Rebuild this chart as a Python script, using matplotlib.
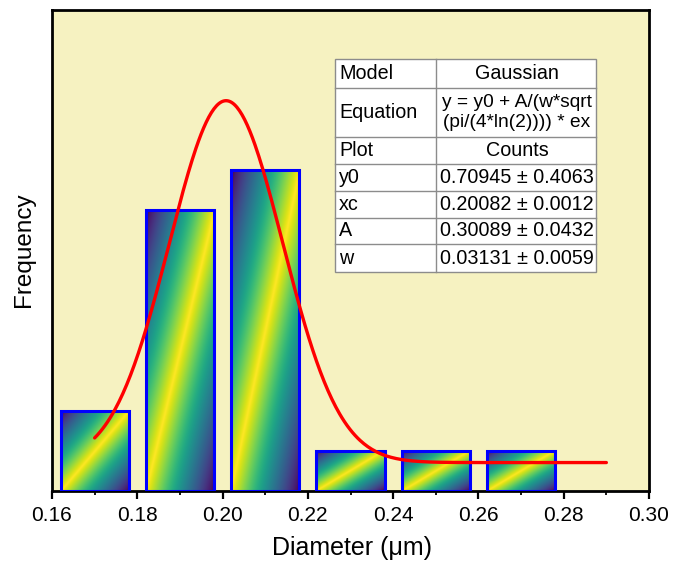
import numpy as np
import matplotlib
matplotlib.use("Agg")
import matplotlib.pyplot as plt
from matplotlib.patches import Rectangle
from matplotlib.ticker import MultipleLocator

plt.rcParams['font.family'] = ['Liberation Sans', 'DejaVu Sans']

# ---- data ----
bin_centers = [0.17, 0.19, 0.21, 0.23, 0.25, 0.27]
counts = [2, 7, 8, 1, 1, 1]
fit_y0 = 0.70945
fit_xc = 0.20082
fit_A = 0.30089
fit_w = 0.03131
fit_range = [0.17, 0.29]

table_rows = [
    ["Model", "Gaussian"],
    ["Equation", "y = y0 + A/(w*sqrt\n(pi/(4*ln(2)))) * ex"],
    ["Plot", "Counts"],
    ["y0", "0.70945 \u00b1 0.4063"],
    ["xc", "0.20082 \u00b1 0.0012"],
    ["A", "0.30089 \u00b1 0.0432"],
    ["w", "0.03131 \u00b1 0.0059"],
]
x_ticks = [0.16, 0.18, 0.20, 0.22, 0.24, 0.26, 0.28, 0.30]

W, H = 683, 565
fig = plt.figure(figsize=(W / 100, H / 100), dpi=100)
ax = fig.add_axes([52 / W, (H - 491) / H, (649 - 52) / W, (491 - 10) / H])
ax.set_facecolor('#f6f2c1')

bar_w = 0.016
M, N = 200, 300
u = np.linspace(0, 1, M)[None, :]
v = np.linspace(0, 1, N)[:, None]
grad = 1 - np.abs(u - v)
for c, h in zip(bin_centers, counts):
    x0, x1 = c - bar_w / 2, c + bar_w / 2
    ax.imshow(grad, cmap='viridis', vmin=0, vmax=1, origin='lower',
              extent=[x0, x1, 0, h], aspect='auto', zorder=2, interpolation='bilinear')
    ax.add_patch(Rectangle((x0, 0), bar_w, h, fill=False, edgecolor='#0000ff',
                           linewidth=2.2, zorder=3))

xs = np.linspace(fit_range[0], fit_range[1], 400)
ys = fit_y0 + fit_A / (fit_w * np.sqrt(np.pi / (4 * np.log(2)))) * \
    np.exp(-4 * np.log(2) * (xs - fit_xc) ** 2 / fit_w ** 2)
ax.plot(xs, ys, color='#ff0000', linewidth=2.4, zorder=4, solid_capstyle='round')

ax.set_xlim(0.16, 0.30)
ax.set_ylim(0, 12)
ax.set_xticks(x_ticks)
ax.set_xticklabels([f"{t:.2f}" for t in x_ticks])
ax.xaxis.set_minor_locator(MultipleLocator(0.01))
ax.tick_params(axis='x', which='major', direction='out', length=6, width=1.6,
               labelsize=15, pad=5)
ax.tick_params(axis='x', which='minor', direction='out', length=3, width=1.3)
ax.set_yticks([])
for s in ax.spines.values():
    s.set_linewidth(2.0)
    s.set_color('black')

fig.text(352 / W, 1 - 548 / H, "Diameter (\u03bcm)", fontsize=18, ha='center', va='center')
fig.text(24 / W, 1 - 250 / H, "Frequency", fontsize=17.5, ha='center', va='center', rotation=90)

# ---- table ----
tx0, tx1, tx2 = 335, 436, 596
row_edges = [59.3, 88.3, 137.3, 164.3, 191, 217.7, 244.3, 271.7]
tab = fig.add_axes([0, 0, 1, 1], zorder=10)
tab.set_xlim(0, W)
tab.set_ylim(H, 0)
tab.axis('off')
tab.add_patch(Rectangle((tx0, row_edges[0]), tx2 - tx0, row_edges[-1] - row_edges[0],
                        facecolor='white', edgecolor='#8c8c8c', linewidth=1.0))
for yy in row_edges[1:-1]:
    tab.plot([tx0, tx2], [yy, yy], color='#8c8c8c', linewidth=1.0)
tab.plot([tx1, tx1], [row_edges[0], row_edges[-1]], color='#8c8c8c', linewidth=1.0)
for i, (a, b) in enumerate(table_rows):
    yc = (row_edges[i] + row_edges[i + 1]) / 2
    tab.text(tx0 + 4, yc, a, fontsize=14.2, ha='left', va='center')
    tab.text((tx1 + tx2) / 2 + 1, yc, b, fontsize=14.2 if i != 1 else 13.8,
             ha='center', va='center', linespacing=1.25)

fig.savefig("out.png", dpi=100)
